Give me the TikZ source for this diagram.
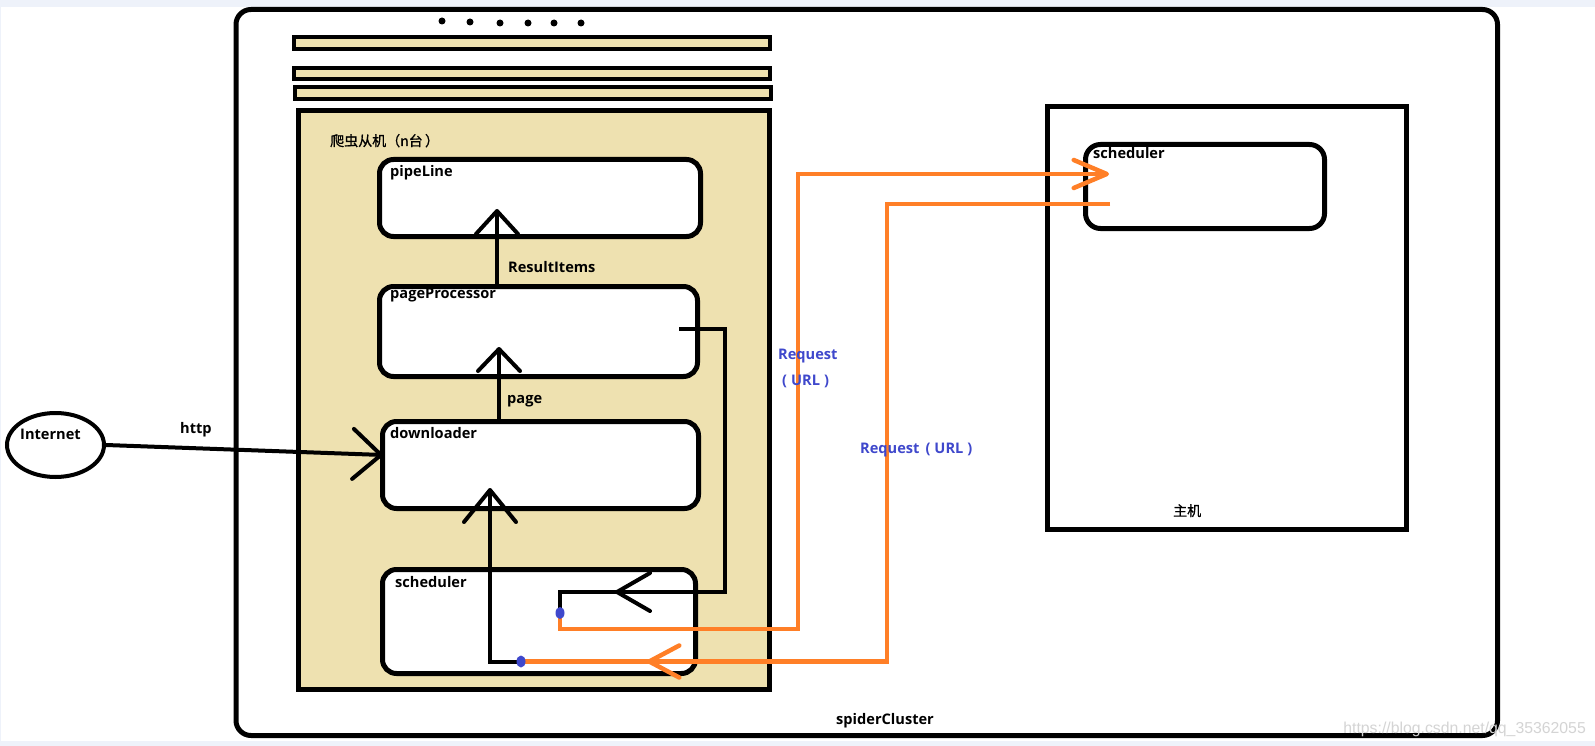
\documentclass[tikz,border=0pt]{standalone}
\usepackage{fontspec}
\setmainfont{Open Sans}
\newfontfamily\cjk{Noto Sans CJK SC}[FakeBold=1]
\newfontfamily\wmfont{Liberation Sans}
\usetikzlibrary{arrows.meta,shapes.geometric}
\definecolor{wheat}{RGB}{238,225,176}
\definecolor{orgc}{RGB}{255,127,39}
\definecolor{indigoc}{RGB}{63,72,204}
\definecolor{bgblue}{RGB}{238,242,250}
\definecolor{wmgray}{RGB}{212,212,212}
\tikzset{
  box/.style={draw, line width=5pt, fill=white, rounded corners=14pt, inner sep=0pt},
  bar/.style={draw, line width=4.5pt, fill=wheat, inner sep=0pt},
  lbl/.style={font=\bfseries\fontsize{14.6}{16}\selectfont, inner sep=0pt, anchor=base west},
  cjklbl/.style={font=\cjk\fontsize{14}{16}\selectfont, inner sep=0pt, anchor=base west},
  req/.style={font=\bfseries\fontsize{14.6}{16}\selectfont, text=indigoc, inner sep=0pt, anchor=base west},
  blk/.style={draw=black, line width=4pt},
  orgline/.style={draw=orgc, line width=4.5pt},
  tdot/.style={circle, fill=black, inner sep=0pt, minimum size=7pt},
  bdot/.style={ellipse, fill=indigoc, inner sep=0pt, minimum width=9pt, minimum height=12pt},
}
\begin{document}
\begin{tikzpicture}[x=1pt,y=-1pt]
\useasboundingbox (0,0) rectangle (1595,746);
\fill[bgblue] (0,0) rectangle (1595,746);
\fill[white] (1,7) rectangle (1595,741);

% outer cluster
\node[draw, line width=5pt, fill=white, rounded corners=15pt, inner sep=0pt,
      minimum width=1261.5pt, minimum height=726pt] (cluster) at (866.75,372.5) {};

% dots
\node[tdot] (p1) at (442,21) {};
\node[tdot] (p2) at (470,22) {};
\node[tdot] (p3) at (500,23) {};
\node[tdot] (p4) at (528,23) {};
\node[tdot] (p5) at (554,23) {};
\node[tdot] (p6) at (581,23) {};

% stacked bars
\node[bar, minimum width=476pt, minimum height=12pt] (bar1) at (532,43) {};
\node[bar, minimum width=476pt, minimum height=11pt] (bar2) at (532,73.5) {};
\node[bar, minimum width=476pt, minimum height=12pt] (bar3) at (533,93) {};

% slave machine
\node[draw, line width=5pt, fill=wheat, inner sep=0pt,
      minimum width=471pt, minimum height=579pt] (slave) at (534,400) {};
\node[cjklbl] (lslave) at (330,146) {爬虫从机（n台\,）};

\node[box, minimum width=321pt, minimum height=77pt] (pipe) at (540,198) {};
\node[box, minimum width=318pt, minimum height=90pt] (pp) at (538.5,331.5) {};
\node[box, minimum width=316pt, minimum height=87pt] (dl) at (540.5,465) {};
\node[box, minimum width=313pt, minimum height=104pt] (sch) at (539,621.5) {};

\node[lbl] (lpipe) at (390,177) {pipeLine};
\node[lbl] (lpp) at (390,298) {pageProcessor};
\node[lbl] (ldl) at (390,438) {downloader};
\node[lbl] (lsch) at (395,587) {scheduler};
\node[lbl] (lres) at (508,272) {ResultItems};
\node[lbl] (lpage) at (507,403) {page};

% master
\node[draw, line width=5pt, fill=white, inner sep=0pt,
      minimum width=359pt, minimum height=422.5pt] (master) at (1226.5,318.25) {};
\node[box, rounded corners=15pt, minimum width=239pt, minimum height=84pt] (msch) at (1205,186.5) {};
\node[lbl] (lmsch) at (1093,159) {scheduler};
\node[cjklbl] (lmaster) at (1173,516) {主机};

% internet
\node[ellipse, draw, line width=4pt, fill=white, inner sep=0pt,
      minimum width=97pt, minimum height=64pt] (inet) at (55.5,445) {};
\node[lbl] (linet) at (20,439) {Internet};
\node[lbl] (lhttp) at (180,433) {http};

\node[lbl] (lcl) at (836,724) {spiderCluster};

% coordinates
\coordinate (t1) at (497,209);
\coordinate (t2) at (499,347);
\coordinate (t3) at (383,455);
\coordinate (d1) at (560,613);
\coordinate (d2) at (521,661.5);
\coordinate (t4) at (490,488);
\coordinate (b1s) at (679,329);
\coordinate (b1c) at (725,592);
\coordinate (t5) at (615,592);
\coordinate (t5b) at (690,592);
\coordinate (o1a) at (798,629);
\coordinate (o1t) at (1109,174);
\coordinate (o2s) at (1110,204);
\coordinate (o2c) at (887,661.5);
\coordinate (t7) at (647,661.5);
\coordinate (t7b) at (720,661.5);

% black connectors
\draw[blk, -{Straight Barb[length=23pt,width=42pt,round]}] (pp.north -| t1) -- (t1);
\draw[blk, -{Straight Barb[length=22pt,width=42pt,round]}] (dl.north -| t2) -- (t2);
\draw[blk, -{Straight Barb[length=28pt,width=50pt,round]}] (inet.east) -- (t3);
\draw[blk, -{Straight Barb[length=32pt,width=52pt,round]}] (d2) -| (t4);
\draw[blk] (b1s) -| (b1c) -| (d1);
\draw[blk, -{Straight Barb[length=33pt,width=38pt,round]}] (t5b) -- (t5);

% orange connectors
\draw[orgline, -{Straight Barb[length=33pt,width=28pt,round]}] (d1) |- (o1a) |- (o1t);
\draw[orgline] (o2s) -| (o2c) -- (d2);
\draw[orgline, -{Straight Barb[length=30pt,width=32pt,round]}] (t7b) -- (t7);

% blue dots
\node[bdot] (bd1) at (d1) {};
\node[bdot] (bd2) at (d2) {};

% request labels
\node[req] (lr1) at (778,359) {Request};
\node[req] (lr2) at (782,385) {(\hspace{4pt}URL\hspace{4pt})};
\node[req] (lr3) at (860,453) {Request\hspace{6pt}(\hspace{4pt}URL\hspace{4pt})};

% watermark
\node[font=\wmfont\fontsize{15.8}{18}\selectfont, text=wmgray, inner sep=0pt, anchor=base east] (wmk) at (1586,733) {https://blog.csdn.net/qq\_35362055};
\end{tikzpicture}
\end{document}
